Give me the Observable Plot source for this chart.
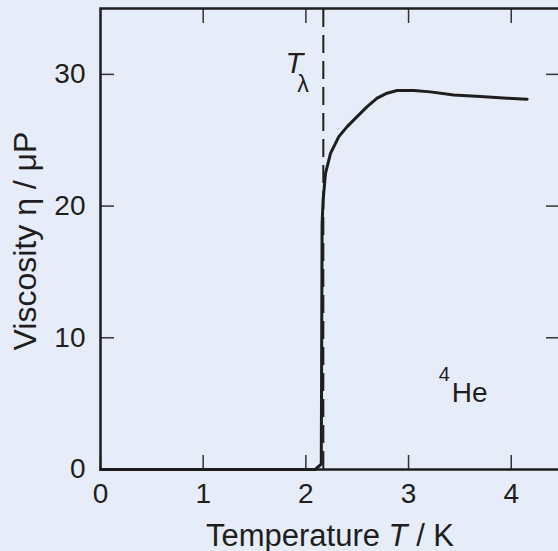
<!DOCTYPE html>
<html>
<head>
<meta charset="utf-8">
<script src="https://cdn.jsdelivr.net/npm/d3@7"></script>
<script src="https://cdn.jsdelivr.net/npm/@observablehq/plot@0.6"></script>
<style>
  html, body { margin: 0; padding: 0; background: #e6edf8; overflow: hidden; }
  #chart { width: 558px; height: 551px; overflow: hidden; }
  #chart svg { max-width: none !important; }
</style>
</head>
<body>
<div id="chart"></div>
<script>
// Data (liquid 4He viscosity vs temperature)
const temperature = [0, 2.09, 2.15, 2.158, 2.168, 2.191, 2.24, 2.321, 2.402, 2.499, 2.597, 2.694, 2.791, 2.889, 3.051, 3.213, 3.44, 3.70, 3.96, 4.155];
const viscosity   = [0, 0,    0.4,  18.68, 20.46, 22.49, 24.0, 25.27, 26.03, 26.79, 27.55, 28.19, 28.57, 28.77, 28.77, 28.67, 28.44, 28.31, 28.19, 28.11];
const xTicks = [0, 1, 2, 3, 4];
const yTicks = [0, 10, 20, 30];
const innerXTicks = [1, 2, 3, 4];
const innerYTicks = [10, 20, 30];
const lambdaPoint = [2.17];
const xLabel = "Temperature T / K";
const yLabel = "Viscosity η / μP";
const heliumLabel = [{x: 3.42, y: 5.1}];
const lambdaLabel = [{x: 2.17, y: 30}];

const data = temperature.map((t, i) => ({t, v: viscosity[i]}));
const font = "'Liberation Sans', Arial, Helvetica, sans-serif";
const ink = "#1e1e1e";

const chart = Plot.plot({
  width: 560,
  height: 551,
  marginLeft: 100,
  marginRight: 1,
  marginTop: 8,
  marginBottom: 82,
  style: {background: "#e6edf8", fontFamily: font, color: ink, maxWidth: "none"},
  x: {domain: [0, 4.47]},
  y: {domain: [0, 35]},
  marks: [
    // inward ticks on all four sides
    Plot.axisX({anchor: "bottom", ticks: xTicks, tickSize: -14, tickPadding: 28, fontSize: 28, label: null, stroke: "#333", strokeWidth: 1.5, tickFormat: d => String(d)}),
    Plot.axisX({anchor: "top", ticks: innerXTicks, tickSize: -14, text: null, label: null, stroke: "#333", strokeWidth: 1.5}),
    Plot.axisY({anchor: "left", ticks: yTicks, tickSize: -14, tickPadding: 29, fontSize: 28, label: null, stroke: "#333", strokeWidth: 1.5, tickFormat: d => String(d)}),
    Plot.axisY({anchor: "right", ticks: innerYTicks, tickSize: -14, text: null, label: null, stroke: "#333", strokeWidth: 1.5}),
    // lambda line
    Plot.ruleX(lambdaPoint, {x: d => d, y1: 0, y2: 35, stroke: ink, strokeWidth: 2, strokeDasharray: "18,8"}),
    // viscosity curve
    Plot.line(data, {x: "t", y: "v", stroke: ink, strokeWidth: 3, strokeLinejoin: "round"}),
    Plot.frame({stroke: ink, strokeWidth: 2.5}),
    // T_lambda label
    Plot.text(lambdaLabel, {x: "x", y: "y", text: () => "T", fontStyle: "italic", fontSize: 29, textAnchor: "end", lineAnchor: "bottom", dx: -20, dy: -1, fill: ink}),
    Plot.text(lambdaLabel, {x: "x", y: "y", text: () => "λ", fontSize: 23, textAnchor: "start", lineAnchor: "bottom", dx: -26, dy: 18, fill: ink}),
    // 4He label
    Plot.text(heliumLabel, {x: "x", y: "y", text: () => "He", fontSize: 28, textAnchor: "start", lineAnchor: "bottom", fill: ink}),
    Plot.text(heliumLabel, {x: "x", y: "y", text: () => "4", fontSize: 20, textAnchor: "start", lineAnchor: "bottom", dx: -13, dy: -21, fill: ink}),
    // axis titles
    Plot.text([xLabel], {frameAnchor: "bottom", text: d => d, fontSize: 31, textAnchor: "middle", lineAnchor: "bottom", dy: 76, fill: ink}),
    Plot.text([yLabel], {frameAnchor: "left", text: d => d, fontSize: 32, textAnchor: "middle", lineAnchor: "bottom", rotate: -90, dx: -65, dy: 2, fill: ink})
  ]
});

// italicise the variable T inside the x-axis title
d3.select(chart).selectAll("text").each(function() {
  if (this.textContent === xLabel) {
    const el = d3.select(this);
    el.text(null);
    el.append("tspan").text("Temperature ");
    el.append("tspan").attr("font-style", "italic").text("T");
    el.append("tspan").text(" / K");
  }
});

document.getElementById("chart").appendChild(chart);
</script>
</body>
</html>
